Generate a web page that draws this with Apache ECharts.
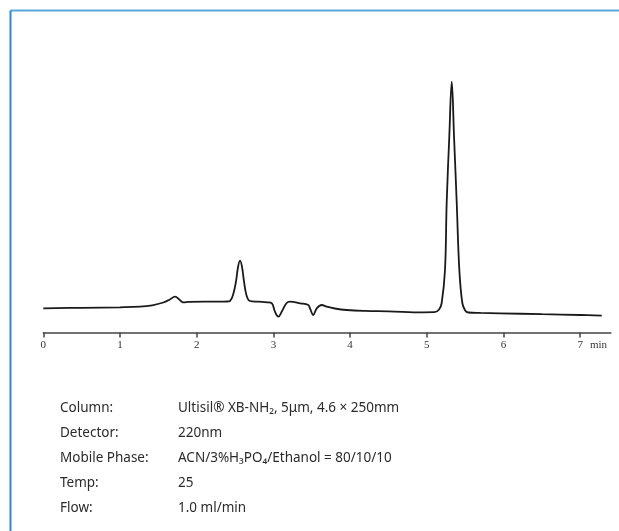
<!DOCTYPE html>
<html>
<head>
<meta charset="utf-8">
<script src="https://cdn.jsdelivr.net/npm/echarts@6/dist/echarts.min.js"></script>
<style>
html,body{margin:0;padding:0;background:#fff;}
#c{width:619px;height:531px;}
</style>
</head>
<body>
<div id="c"></div>
<script>
// retention time (min)
var time = [0, 0.5, 1.0, 1.26, 1.42, 1.565, 1.65, 1.717, 1.78, 1.825, 1.9, 2.1, 2.3, 2.40, 2.434, 2.475, 2.512, 2.54, 2.565, 2.59, 2.617, 2.65, 2.695, 2.80, 2.92, 2.98, 3.02, 3.064, 3.108, 3.17, 3.216, 3.35, 3.455, 3.477, 3.52, 3.565, 3.63, 3.695, 3.8, 3.955, 4.2, 4.5, 4.955, 5.10, 5.16, 5.194, 5.237, 5.259, 5.293, 5.325, 5.355, 5.390, 5.424, 5.463, 5.50, 5.541, 5.7, 5.95, 6.5, 7.0, 7.28];
// detector signal (arbitrary units)
var signal = [24.2, 24.7, 25.2, 25.8, 27.2, 30.0, 33.0, 35.8, 32.5, 30.2, 30.6, 30.8, 30.8, 31.0, 31.5, 38.0, 50.8, 66.0, 71.8, 66.0, 50.8, 37.0, 31.5, 30.8, 30.2, 29.2, 20.8, 15.8, 20.8, 29.2, 30.8, 29.2, 27.5, 24.2, 17.5, 24.2, 27.5, 25.8, 24.0, 22.5, 21.6, 21.2, 20.2, 20.3, 23.0, 29.5, 62.5, 129.5, 195.8, 250.8, 195.8, 129.5, 62.5, 29.5, 22.0, 20.0, 19.6, 19.2, 18.3, 17.5, 16.8];
var xTicks = ['0', '1', '2', '3', '4', '5', '6', '7'];
var condLabels = ['Column:', 'Detector:', 'Mobile Phase:', 'Temp:', 'Flow:'];
var condValues = ['Ultisil\u00AE XB-NH\u2082, 5\u03BCm, 4.6 \u00D7 250mm', '220nm', 'ACN/3%H\u2083PO\u2084/Ethanol = 80/10/10', '25', '1.0 ml/min'];

var pts = time.map(function (t, i) { return [t, signal[i]]; });

var graphics = [
  { type: 'line', shape: { x1: 10.5, y1: 10.5, x2: 619, y2: 10.5 }, style: { stroke: '#5aa5de', lineWidth: 2 } },
  { type: 'line', shape: { x1: 10.5, y1: 10.5, x2: 10.5, y2: 531 }, style: { stroke: '#2f86d0', lineWidth: 2 } },
  { type: 'text', left: 590, top: 340, style: { text: 'min', font: '11px "Liberation Serif"', fill: '#333' } }
];
condLabels.forEach(function (lab, i) {
  graphics.push({ type: 'text', left: 60, top: 401 + i * 25, style: { text: lab, font: '13.5px "Noto Sans"', fill: '#2b2b2b' } });
  graphics.push({ type: 'text', left: 178, top: 401 + i * 25, style: { text: condValues[i], font: '13.5px "Noto Sans"', fill: '#2b2b2b' } });
});

var chart = echarts.init(document.getElementById('c'), null, { renderer: 'canvas' });
chart.setOption({
  backgroundColor: '#ffffff',
  animation: false,
  grid: { left: 43.3, right: 8.1, top: 72.5, bottom: 198.5, containLabel: false },
  xAxis: {
    type: 'value', min: 0, max: 7.4, interval: 1,
    axisLine: { lineStyle: { color: '#444', width: 1.5 } },
    axisTick: { show: true, length: 5, lineStyle: { color: '#444', width: 1.5 } },
    axisLabel: { margin: 7, color: '#333', fontFamily: 'Liberation Serif', fontSize: 11,
      formatter: function (v) { var i = Math.round(v); return (Math.abs(v - i) < 1e-6 && i < xTicks.length) ? xTicks[i] : ''; },
      showMaxLabel: false },
    splitLine: { show: false }
  },
  yAxis: { type: 'value', min: 0, max: 260, show: false, splitLine: { show: false } },
  series: [{
    type: 'line', data: pts, showSymbol: false, smooth: 0.4,
    lineStyle: { color: '#1a1a1a', width: 1.8 }
  }],
  graphic: graphics
});
</script>
</body>
</html>
